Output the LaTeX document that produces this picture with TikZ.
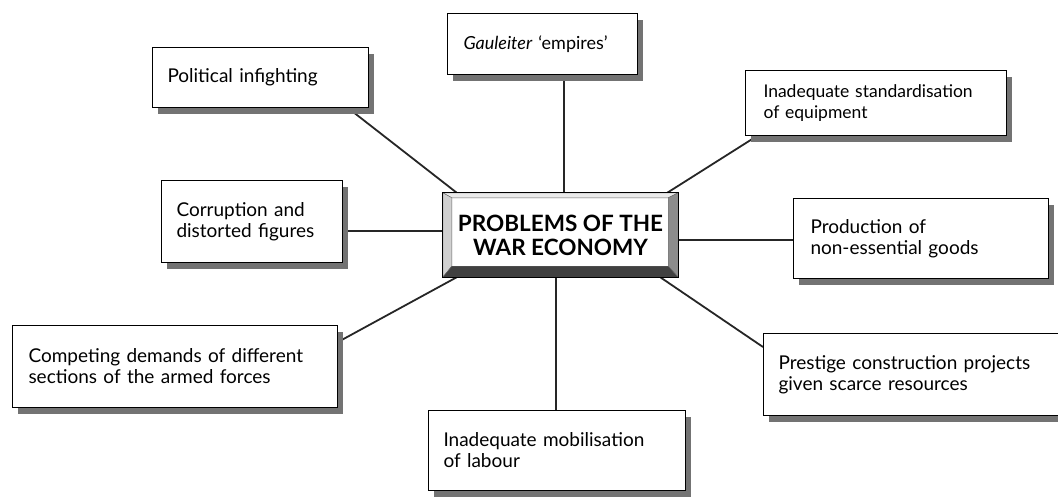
\documentclass[tikz,border=0pt]{standalone}
\usepackage{fontspec}
\setmainfont{Lato}
\usetikzlibrary{shadows,calc,backgrounds}
\hyphenpenalty=10000
\begin{document}
\begin{tikzpicture}[x=1pt,y=-1pt,
  box/.style={draw=black, line width=1pt, fill=white, rectangle, inner sep=0pt,
    anchor=north west, align=left, font=\fontsize{19}{21}\selectfont,
    general shadow={fill=black!55, shadow xshift=5pt, shadow yshift=-6pt}},
  link/.style={line width=1.8pt, black!85},
  bevel/.style={draw=black!60, line width=0.4pt}]
\useasboundingbox (0,0) rectangle (1058,496);
\clip (0,0) rectangle (1058,496);

% outer boxes
\node[box, minimum width=216pt, minimum height=60pt, text width=186pt] (pol) at (152,47) {Political infighting};
\node[box, minimum width=190pt, minimum height=61pt, text width=158pt, font=\fontsize{18}{21}\selectfont] (gau) at (447,13) {\textit{Gauleiter} ‘empires’};
\node[box, minimum width=261pt, minimum height=65pt, text width=225pt, font=\fontsize{17.5}{21}\selectfont] (std) at (745,70) {Inadequate standardisation\\of equipment};
\node[box, minimum width=181pt, minimum height=82pt, text width=151pt] (cor) at (161,180) {Corruption and\\distorted figures};
\node[box, minimum width=255pt, minimum height=80pt, text width=221pt] (prod) at (793,198) {Production of\\non-essential goods};
\node[box, minimum width=325pt, minimum height=82pt, text width=293pt] (comp) at (12,325) {Competing demands of different\\sections of the armed forces};
\node[box, minimum width=320pt, minimum height=82pt, text width=290pt] (pre) at (763,333) {Prestige construction projects\\given scarce resources};
\node[box, minimum width=257pt, minimum height=80pt, text width=227pt] (mob) at (428,410) {Inadequate mobilisation\\of labour};

% central box
\node[minimum width=235pt, minimum height=84pt, inner sep=0pt, align=center,
  font=\bfseries\fontsize{22.5}{24}\selectfont] (core) at (560.5,235) {PROBLEMS OF THE\\WAR ECONOMY};

\begin{pgfonlayer}{background}
  % connectors
  \draw[link] ([xshift=-21pt]pol.south east) -- ([xshift=14pt]core.north west);
  \draw[link] ([xshift=3.5pt]core.north) -- ([xshift=3.5pt]core.north |- gau.south);
  \draw[link] ([xshift=12pt]std.south west) -- ([xshift=-11pt]core.north east);
  \draw[link] ([yshift=4pt]core.west) -- ([yshift=4pt]core.west -| cor.east);
  \draw[link] ([yshift=-5pt]core.east) -- ([yshift=-5pt]core.east -| prod.west);
  \draw[link] ([xshift=14pt]core.south west) -- ([yshift=-17pt]comp.north east);
  \draw[link] ([xshift=-18pt]core.south east) -- ([yshift=-14pt]pre.north west);
  \draw[link] ([xshift=-4.5pt]core.south) -- ([xshift=-4.5pt]core.south |- mob.north);
  % bevels of the central box
  \coordinate (ciNW) at ($(core.north west)+(9,5)$);
  \coordinate (ciNE) at ($(core.north east)+(-10,5)$);
  \coordinate (ciSE) at ($(core.south east)+(-10,-11)$);
  \coordinate (ciSW) at ($(core.south west)+(9,-11)$);
  \fill[white] (ciNW) rectangle (ciSE);
  \filldraw[bevel, fill=black!8] (core.north west) -- (core.north east) -- (ciNE) -- (ciNW) -- cycle;
  \filldraw[bevel, fill=black!18] (core.north west) -- (ciNW) -- (ciSW) -- (core.south west) -- cycle;
  \filldraw[bevel, fill=black!45] (core.north east) -- (core.south east) -- (ciSE) -- (ciNE) -- cycle;
  \filldraw[bevel, fill=black!75] (core.south west) -- (ciSW) -- (ciSE) -- (core.south east) -- cycle;
  \draw[line width=1.2pt] (core.north west) rectangle (core.south east);
\end{pgfonlayer}
\end{tikzpicture}
\end{document}
